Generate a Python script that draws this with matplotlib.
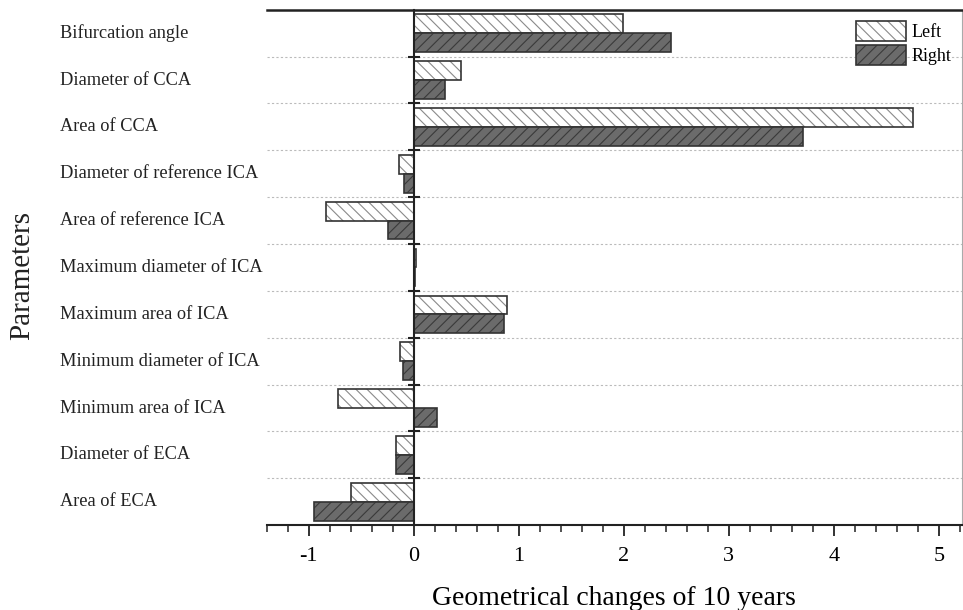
import matplotlib
matplotlib.use('Agg')
import matplotlib.pyplot as plt
import numpy as np
from matplotlib.patches import Patch
from matplotlib.transforms import blended_transform_factory
from matplotlib.ticker import MultipleLocator

plt.rcParams['font.family'] = ['Liberation Serif', 'DejaVu Serif']
plt.rcParams['hatch.linewidth'] = 0.8

parameters = ["Bifurcation angle", "Diameter of CCA", "Area of CCA",
              "Diameter of reference ICA", "Area of reference ICA",
              "Maximum diameter of ICA", "Maximum area of ICA",
              "Minimum diameter of ICA", "Minimum area of ICA",
              "Diameter of ECA", "Area of ECA"]
left = [1.99, 0.45, 4.75, -0.14, -0.84, 0.02, 0.885, -0.135, -0.72, -0.17, -0.60]
right = [2.45, 0.30, 3.71, -0.095, -0.25, 0.01, 0.857, -0.107, 0.22, -0.17, -0.95]

n = len(parameters)
y = np.arange(n)[::-1]  # top row first
h = 0.4

fig = plt.figure(figsize=(9.63, 6.10), dpi=100)
ax = fig.add_axes([0.277, 0.139, 0.722, 0.845])

# hatch layer, then outline layer on top
ax.barh(y + h / 2, left, height=h, color='white', edgecolor='#8a8a8a', hatch='\\\\\\', linewidth=0)
ax.barh(y + h / 2, left, height=h, fill=False, edgecolor='#333333', linewidth=1.2)
ax.barh(y - h / 2, right, height=h, color='#6b6b6b', edgecolor='#3a3a3a', hatch='///', linewidth=0)
ax.barh(y - h / 2, right, height=h, fill=False, edgecolor='#333333', linewidth=1.2)

ax.set_xlim(-1.4, 5.22)
ax.set_ylim(-0.5, n - 0.5)

# dotted row separators
for k in range(n - 1):
    ax.axhline(k + 0.5, color='#bbbbbb', linestyle=(0, (2, 2)), linewidth=0.8, zorder=0)

# vertical spine at zero
ax.spines['left'].set_position(('data', 0))
ax.spines['left'].set_linewidth(1.5)
ax.spines['left'].set_color('#222222')
ax.set_yticks(np.arange(n - 1) + 0.5)
ax.set_yticklabels([])
ax.tick_params(axis='y', direction='inout', length=8, width=1.5, color='#222222')

ax.spines['top'].set_linewidth(1.8)
ax.spines['top'].set_color('#222222')
ax.spines['right'].set_linewidth(0.8)
ax.spines['right'].set_color('#aaaaaa')
ax.spines['bottom'].set_linewidth(1.5)
ax.spines['bottom'].set_color('#222222')

ax.xaxis.set_major_locator(MultipleLocator(1))
ax.xaxis.set_minor_locator(MultipleLocator(0.2))
ax.tick_params(axis='x', which='major', direction='out', length=8, width=1.3, labelsize=16, pad=8, color='#222222')
ax.tick_params(axis='x', which='minor', direction='out', length=5, width=1.1, color='#222222')
ax.set_xticks([-1, 0, 1, 2, 3, 4, 5])
ax.set_xticklabels(['-1', '0', '1', '2', '3', '4', '5'])

ax.set_xlabel('Geometrical changes of 10 years', fontsize=20, labelpad=14)

# category labels on the left
trans = blended_transform_factory(fig.transFigure, ax.transData)
for yy, name in zip(y, parameters):
    ax.text(60 / 963, yy, name, transform=trans, ha='left', va='center', fontsize=13.2, color='#222222')

fig.text(22 / 963, 0.549, 'Parameters', rotation=90, ha='center', va='center', fontsize=21, color='#222222')

hl = (Patch(facecolor='white', edgecolor='#8a8a8a', hatch='\\\\\\', linewidth=0),
      Patch(fill=False, edgecolor='#333333', linewidth=1.2))
hr = (Patch(facecolor='#6b6b6b', edgecolor='#3a3a3a', hatch='///', linewidth=0),
      Patch(fill=False, edgecolor='#333333', linewidth=1.2))
ax.legend([hl, hr], ['Left', 'Right'], loc='upper right', frameon=False, fontsize=13,
          handlelength=2.77, handleheight=1.33, handletextpad=0.3, labelspacing=0.25,
          borderpad=0.3, borderaxespad=0.3)

fig.savefig('out.png', dpi=100)
